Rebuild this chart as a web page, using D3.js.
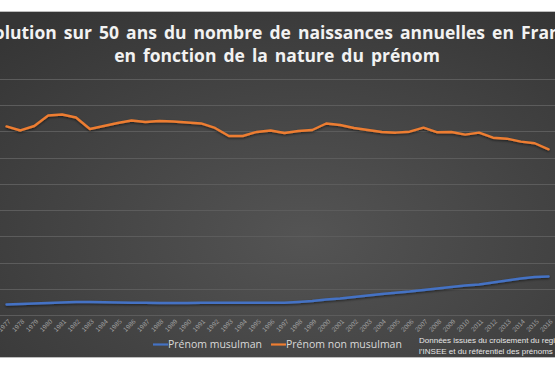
<!DOCTYPE html>
<html>
<head>
<meta charset="utf-8">
<script src="https://cdn.jsdelivr.net/npm/d3@7"></script>
<style>
  html, body { margin: 0; padding: 0; background: #fff; }
  svg { display: block; }
</style>
</head>
<body>
<svg id="chart" width="555" height="370"></svg>
<script>

// Data (births per year)
let years = d3.range(1977, 2017);

let musulman = [
    40000, 42000, 43900, 45800, 47700, 49600, 49600, 48400, 47700, 46900,
    46500, 45800, 45800, 45800, 46500, 46900, 46900, 46500, 46500, 46500,
    46900, 49600, 53400, 59100, 62900, 68700, 74400, 80100, 85100, 89600,
    95400, 101100, 106800, 112500, 116300, 124000, 131600, 139200, 144900, 146800
];

let nonMusulman = [
    719000, 703700, 720800, 760900, 764700, 753300, 709400, 720800, 732300, 741800,
    736100, 739900, 738000, 734200, 730400, 713200, 682700, 682700, 698000, 703700,
    694100, 701800, 705600, 730400, 724700, 713200, 705600, 698000, 695300, 699100,
    714400, 696800, 698000, 687700, 695300, 676200, 672400, 661000, 654900, 632000
];

let gridTicks = d3.range(0, 1000000, 100000);

let titleLines = [
    'Évolution sur 50 ans du nombre de naissances annuelles en France',
    'en fonction de la nature du prénom'
];

let legendLabels = ['Prénom musulman', 'Prénom non musulman'];
let sourceLines = [
    'Données issues du croisement du registre de',
    'l\u2019INSEE et du référentiel des prénoms'
];

let Colors = {
    musulman: '#4472c4',
    nonMusulman: '#ed7d31',
    grid: '#5c5c5c',
    text: '#d9d9d9',
    tick: '#a0a0a0'
};

let Plot = {
    left: 6.5,
    right: 548.6,
    top: 79,
    bottom: 315
};

let svg = d3.select('#chart');

// background
let defs = svg.append('defs');
let grad = defs.append('radialGradient')
    .attr('id', 'bg')
    .attr('cx', '55%')
    .attr('cy', '65%')
    .attr('r', '80%');
grad.append('stop').attr('offset', '0%').attr('stop-color', '#545454');
grad.append('stop').attr('offset', '100%').attr('stop-color', '#353535');

let glow = defs.append('filter').attr('id', 'shadow')
    .attr('x', '-5%').attr('y', '-20%').attr('width', '110%').attr('height', '140%');
glow.append('feDropShadow')
    .attr('dx', 0).attr('dy', 1.2)
    .attr('stdDeviation', 0.8)
    .attr('flood-color', '#000')
    .attr('flood-opacity', 0.55);

svg.append('rect')
    .attr('x', 0).attr('y', 11)
    .attr('width', 555).attr('height', 347)
    .attr('fill', 'url(#bg)');
svg.append('line')
    .attr('x1', 0).attr('x2', 555).attr('y1', 11.5).attr('y2', 11.5)
    .attr('stroke', '#bdbdbd');
svg.append('line')
    .attr('x1', 0).attr('x2', 555).attr('y1', 357.5).attr('y2', 357.5)
    .attr('stroke', '#bdbdbd');

// scales
let x = d3.scalePoint()
    .domain(years)
    .range([Plot.left, Plot.right]);

let y = d3.scaleLinear()
    .domain([0, 900000])
    .range([Plot.bottom, Plot.top]);

// gridlines
svg.append('g')
    .selectAll('line')
    .data(gridTicks)
    .join('line')
    .attr('x1', 0)
    .attr('x2', 555)
    .attr('y1', d => Math.round(y(d)) + 0.5)
    .attr('y2', d => Math.round(y(d)) + 0.5)
    .attr('stroke', Colors.grid)
    .attr('stroke-width', 1);

// x axis labels, rotated like the spreadsheet
let xAxis = d3.axisBottom(x).tickSize(0).tickPadding(0);
let axisG = svg.append('g')
    .attr('transform', `translate(0, ${Plot.bottom + 3})`)
    .call(xAxis);
axisG.select('.domain').remove();
axisG.selectAll('text')
    .attr('fill', Colors.tick)
    .attr('font-family', 'Liberation Sans, Arial, sans-serif')
    .attr('font-size', 6.5)
    .attr('text-anchor', 'end')
    .attr('dy', 0)
    .attr('transform', 'translate(4, 4) rotate(-45)');

// lines
let line = d3.line()
    .x((d, i) => x(years[i]))
    .y(d => y(d));

let series = [
    { values: nonMusulman, color: Colors.nonMusulman },
    { values: musulman, color: Colors.musulman }
];

svg.append('g')
    .selectAll('path')
    .data(series)
    .join('path')
    .attr('d', d => line(d.values))
    .attr('fill', 'none')
    .attr('stroke', d => d.color)
    .attr('stroke-width', 2.4)
    .attr('stroke-linejoin', 'round')
    .attr('stroke-linecap', 'round')
    .attr('filter', 'url(#shadow)');

// title (cropped at both sides, as in the screenshot)
svg.append('g')
    .selectAll('text')
    .data(titleLines)
    .join('text')
    .attr('x', 277)
    .attr('y', (d, i) => 39 + i * 23)
    .attr('text-anchor', 'middle')
    .attr('fill', '#f2f2f2')
    .attr('font-family', 'Open Sans, sans-serif')
    .attr('font-weight', 'bold')
    .attr('font-size', 17.5)
    .attr('word-spacing', 2.5)
    .text(d => d);

// legend
let legendX = [153, 271];
let legend = svg.append('g')
    .selectAll('g')
    .data(legendLabels)
    .join('g')
    .attr('transform', (d, i) => `translate(${legendX[i]}, 348)`);
legend.append('line')
    .attr('x1', 0).attr('x2', 15)
    .attr('y1', -3.5).attr('y2', -3.5)
    .attr('stroke', (d, i) => i === 0 ? Colors.musulman : Colors.nonMusulman)
    .attr('stroke-width', 2.2);
legend.append('text')
    .attr('x', 15)
    .attr('y', 0)
    .attr('fill', Colors.text)
    .attr('font-family', 'Open Sans, sans-serif')
    .attr('font-size', 10.5)
    .text(d => d);

// source note
svg.append('g')
    .selectAll('text')
    .data(sourceLines)
    .join('text')
    .attr('x', 419)
    .attr('y', (d, i) => 343 + i * 11)
    .attr('fill', '#e6e6e6')
    .attr('font-family', 'Liberation Sans, Arial, sans-serif')
    .attr('font-size', 8)
    .text(d => d);

</script>
</body>
</html>
